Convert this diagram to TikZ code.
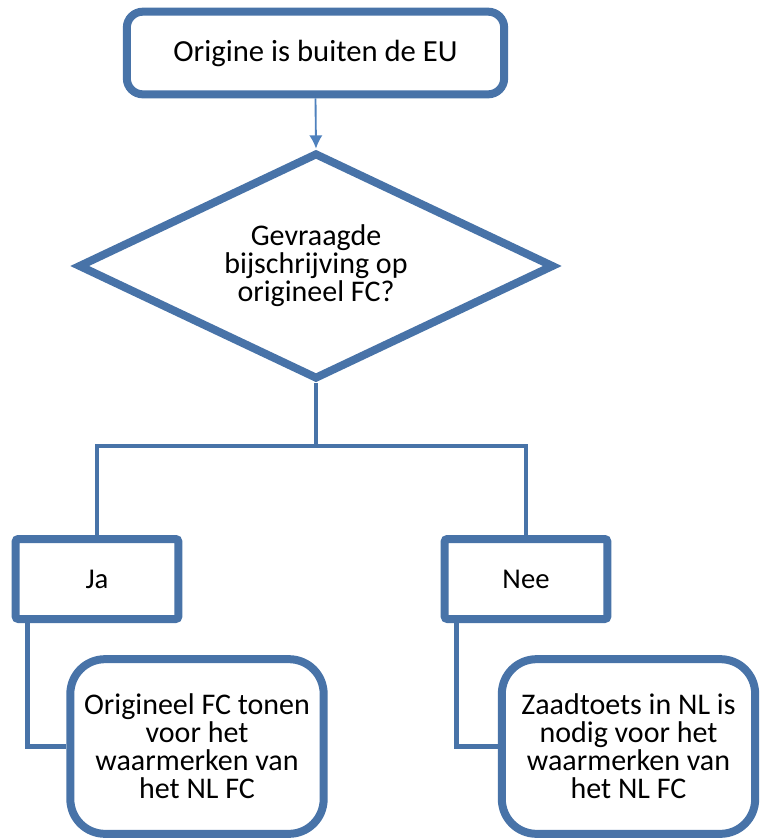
\documentclass[tikz,border=0pt]{standalone}
\usepackage{fontspec}
\setmainfont{Carlito}
\usepackage{xcolor}
\usetikzlibrary{arrows.meta,shapes.geometric,shadows}
\definecolor{flowblue}{RGB}{72,115,168}
\definecolor{arrowblue}{RGB}{79,129,189}

\begin{document}
\begin{tikzpicture}[
  x=0.75pt,y=-0.75pt,
  >=Latex,
  shade/.style={drop shadow={opacity=0.25,shadow xshift=1.5pt,shadow yshift=-1.5pt}},
  startbox/.style={draw=flowblue,line width=6pt,rounded corners=12pt,fill=white,
                   minimum width=283pt,minimum height=62pt,font=\fontsize{23}{24}\selectfont,shade},
  askbox/.style={diamond,aspect=2.1,draw=flowblue,line width=6pt,fill=white,align=center,
                 minimum width=357pt,minimum height=170pt,inner sep=0pt,
                 font=\fontsize{22.5}{21}\selectfont},
  choicebox/.style={draw=flowblue,line width=6pt,rounded corners=2pt,fill=white,
                    minimum width=122pt,minimum height=60pt,font=\fontsize{21.5}{22}\selectfont,shade},
  endbox/.style={draw=flowblue,line width=6pt,rounded corners=26pt,fill=white,align=center,
                 minimum width=190pt,minimum height=131pt,font=\fontsize{22.5}{21}\selectfont,shade},
  link/.style={draw=flowblue,line width=3.5pt}
]
 \useasboundingbox (0,0) rectangle (761,840);
 \node[startbox] (start) at (315.5,53) {Origine is buiten de EU};
 \node[askbox] (ask) at (316,266) {Gevraagde\\bijschrijving op\\origineel FC?};
 \node[choicebox] (ja) at (97,579) {Ja};
 \node[choicebox] (nee) at (526,579) {Nee};
 \node[endbox] (jares) at (197,746.5)
       {Origineel FC tonen\\voor het\\waarmerken van\\het NL FC};
 \node[endbox] (neeres) at (628.5,746.5)
       {Zaadtoets in NL is\\nodig voor het\\waarmerken van\\het NL FC};
 \coordinate (split) at (316,446);
 \draw[-{Latex[length=10pt,width=10pt]},arrowblue,line width=1.4pt] (start.south) -- (ask.north);
 \draw[link] (ask.south) -- (split);
 \draw[link] (split) -| (ja.north);
 \draw[link] (split) -| (nee.north);
 \draw[link] ([xshift=12pt]ja.south west) |- (jares.west);
 \draw[link] ([xshift=12pt]nee.south west) |- (neeres.west);
\end{tikzpicture}
\end{document}
